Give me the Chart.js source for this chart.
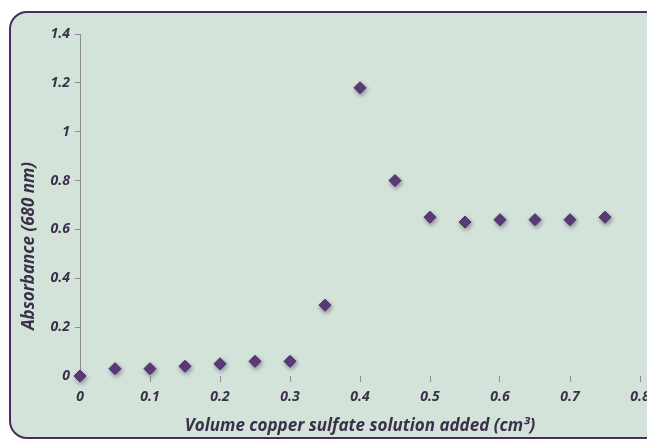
<!DOCTYPE html>
<html>
<head>
<meta charset="utf-8">
<script src="https://cdn.jsdelivr.net/npm/chart.js@4"></script>
<style>
  html, body { margin: 0; padding: 0; background: #ffffff; overflow: hidden; width: 647px; height: 439px; }
  #panel {
    position: absolute; left: 9px; top: 11px; width: 650px; height: 424px;
    background: #d3e3d9; border: 2px solid #4b2b5e; border-radius: 18px;
  }
  #wrap { position: absolute; left: 0; top: 0; width: 680px; height: 439px; }
</style>
</head>
<body>
<div id="panel"></div>
<div id="wrap"><canvas id="myChart" width="680" height="439"></canvas></div>
<script>
// Data
var volumes = [0, 0.05, 0.1, 0.15, 0.2, 0.25, 0.3, 0.35, 0.4, 0.45, 0.5, 0.55, 0.6, 0.65, 0.7, 0.75];
var absorbance = [0, 0.03, 0.03, 0.04, 0.05, 0.06, 0.06, 0.29, 1.18, 0.80, 0.65, 0.63, 0.64, 0.64, 0.64, 0.65];
var xTitle = 'Volume copper sulfate solution added (cm\u00b3)';
var yTitle = 'Absorbance (680 nm)';

var points = volumes.map(function (v, i) { return { x: v, y: absorbance[i] }; });

var textColor = '#3b3049';
var tickFont = { family: 'Open Sans', size: 14, weight: 'bold', style: 'italic' };
var titleFont = { family: 'Open Sans', size: 17, weight: 'bold', style: 'italic' };

// soft shadow under the markers
var shadowPlugin = {
    id: 'markerShadow',
    beforeDatasetsDraw: function (chart) {
        var c = chart.ctx;
        c.save();
        c.shadowColor = 'rgba(60, 30, 80, 0.45)';
        c.shadowBlur = 4;
        c.shadowOffsetX = 1;
        c.shadowOffsetY = 2;
    },
    afterDatasetsDraw: function (chart) {
        chart.ctx.restore();
    }
};

// y axis title sits a bit below the middle of the axis, as in the original
var yTitlePlugin = {
    id: 'yTitle',
    afterDraw: function (chart) {
        var c = chart.ctx;
        c.save();
        c.translate(29, 246);
        c.rotate(-Math.PI / 2);
        c.font = 'italic bold 17px "Open Sans"';
        c.fillStyle = textColor;
        c.textAlign = 'center';
        c.textBaseline = 'middle';
        c.fillText(yTitle, 0, 0);
        c.restore();
    }
};

var ctx = document.getElementById('myChart').getContext('2d');
var myChart = new Chart(ctx, {
    type: 'scatter',
    data: {
        datasets: [{
            label: yTitle,
            data: points,
            pointStyle: 'rectRot',
            pointRadius: 6,
            backgroundColor: '#5c3c78',
            borderColor: '#4a2c66',
            borderWidth: 1,
            clip: false
        }]
    },
    options: {
        responsive: false,
        animation: false,
        layout: { padding: { left: 0, top: 34, right: 40, bottom: 0 } },
        plugins: {
            legend: { display: false },
            tooltip: { enabled: false }
        },
        scales: {
            x: {
                type: 'linear',
                min: 0,
                max: 0.8,
                ticks: {
                    stepSize: 0.1,
                    padding: 7,
                    color: textColor,
                    font: tickFont,
                    callback: function (v) { return Math.round(v * 10) / 10; }
                },
                grid: { drawOnChartArea: false, tickLength: 6, color: '#8d8d8d' },
                border: { display: false },
                title: { display: true, text: xTitle, color: textColor, font: titleFont, padding: { top: 0, bottom: 3 } },
                afterFit: function (scale) { scale.height = 63; }
            },
            y: {
                min: 0,
                max: 1.4,
                ticks: {
                    stepSize: 0.2,
                    padding: 5,
                    color: textColor,
                    font: tickFont,
                    callback: function (v) { return Math.round(v * 10) / 10; }
                },
                grid: { drawOnChartArea: false, tickLength: 5, color: '#8d8d8d' },
                border: { display: true, color: '#8d8d8d', width: 1 },
                title: { display: false },
                afterFit: function (scale) { scale.width = 80; }
            }
        }
    },
    plugins: [shadowPlugin, yTitlePlugin]
});
</script>
</body>
</html>
